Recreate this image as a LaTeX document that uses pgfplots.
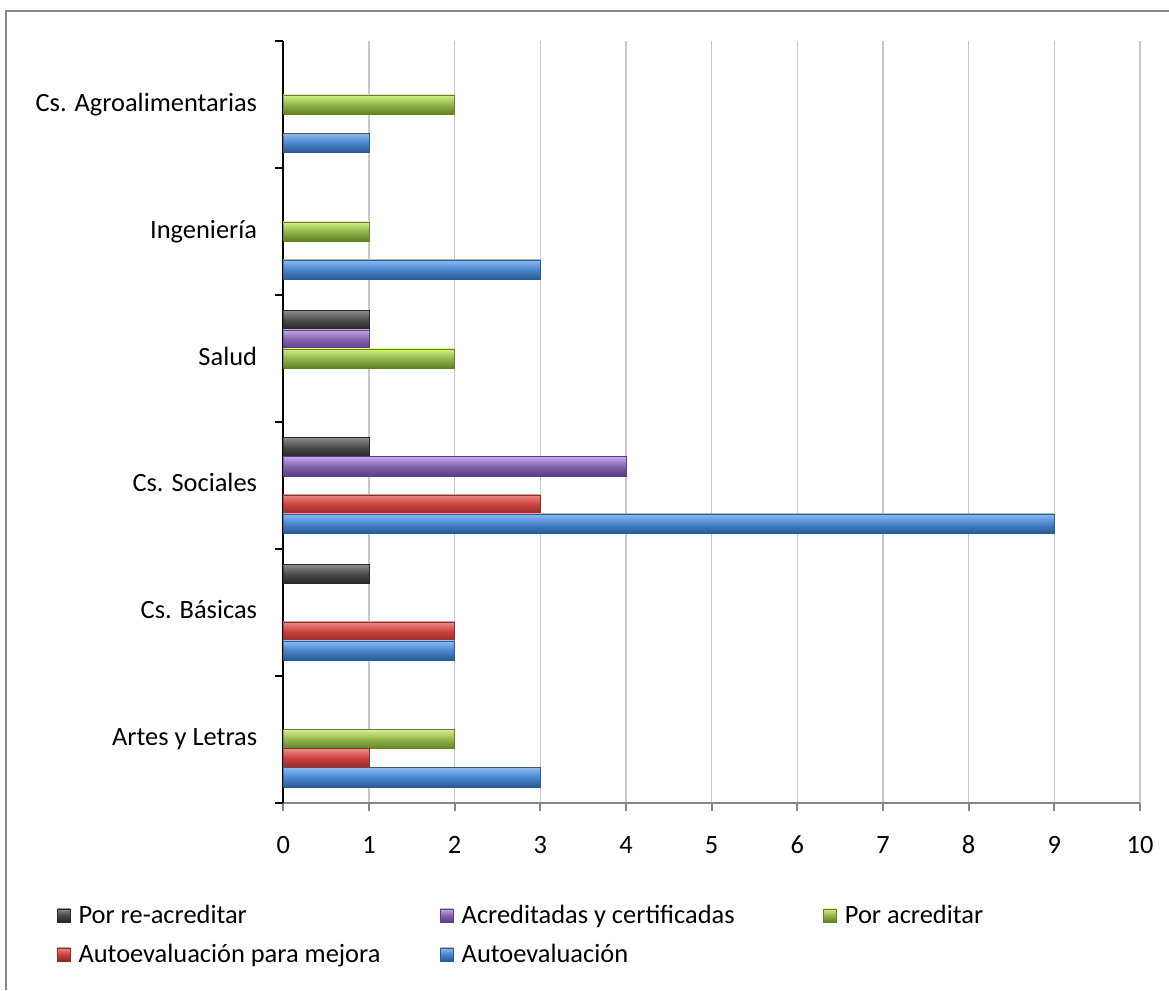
\documentclass[border=0pt]{standalone}
\usepackage{pgfplots}
\pgfplotsset{compat=1.18}
\usepackage{fontspec}
\setmainfont{Carlito}
\definecolor{axgray}{HTML}{868686}
\definecolor{grd}{HTML}{C8C8C8}
\definecolor{bM}{HTML}{4A86CF}\definecolor{bL}{HTML}{8DBDF2}\definecolor{bD}{HTML}{2D5A8E}
\definecolor{rM}{HTML}{C9423F}\definecolor{rL}{HTML}{F28A87}\definecolor{rD}{HTML}{8E2E2C}
\definecolor{gM}{HTML}{93B64A}\definecolor{gL}{HTML}{D3F287}\definecolor{gD}{HTML}{647F2E}
\definecolor{pM}{HTML}{8463AE}\definecolor{pL}{HTML}{C6A6EC}\definecolor{pD}{HTML}{594080}
\definecolor{kM}{HTML}{4A4A4A}\definecolor{kL}{HTML}{8C8C8C}\definecolor{kD}{HTML}{262626}
\newcommand{\lf}{\fontsize{19.8}{24}\selectfont}
\pgfplotsset{
  sK/.style={xbar, bar width=0.15, bar shift=0.3, draw=kD, top color=kL, bottom color=kD, middle color=kM},
  sP/.style={xbar, bar width=0.15, bar shift=0.15, draw=pD, top color=pL, bottom color=pD, middle color=pM},
  sG/.style={xbar, bar width=0.15, bar shift=0, draw=gD, top color=gL, bottom color=gD, middle color=gM},
  sR/.style={xbar, bar width=0.15, bar shift=-0.15, draw=rD, top color=rL, bottom color=rD, middle color=rM},
  sB/.style={xbar, bar width=0.15, bar shift=-0.3, draw=bD, top color=bL, bottom color=bD, middle color=bM},
}
\begin{document}
\begin{tikzpicture}
\useasboundingbox (0pt,0pt) rectangle (876.75pt,742.5pt);
\draw[axgray, line width=1.1pt] (4.5pt,0pt) -- (4.5pt,734.25pt) -- (876.75pt,734.25pt);
\begin{axis}[
  at={(212.5pt,140.5pt)}, anchor=south west,
  scale only axis, width=642.5pt, height=571.25pt,
  xmin=0, xmax=10, ymin=-0.5, ymax=5.5,
  xtick={0,1,...,10},
  ytick={0,...,5},
  yticklabels={Artes y Letras, Cs. Básicas, Cs. Sociales, Salud, Ingeniería, Cs. Agroalimentarias},
  minor ytick={-0.5,0.5,...,5.5},
  axis x line*=bottom, axis y line*=left,
  x axis line style={axgray, line width=1.4pt, -},
  y axis line style={black, line width=1.5pt, -},
  tick align=outside,
  major tick length=6pt, minor tick length=6pt,
  x tick style={axgray, line width=1.4pt},
  major y tick style={draw=none},
  minor y tick style={black, line width=1.4pt},
  xmajorgrids, major x grid style={grd, line width=1.1pt},
  /pgf/number format/assume math mode=true,
  tick label style={font=\lf},
  yticklabel style={anchor=east, inner sep=0pt, text height=14pt, text depth=4pt, xshift=-13.5pt},
  xticklabel style={anchor=north, inner sep=0pt, text height=12.5pt, text depth=0pt, yshift=-19.5pt},
  legend columns=3,
  legend style={draw=none, fill=none, at={(-0.2642,-0.1345)}, anchor=north west,
    font=\lf, inner sep=0pt, outer sep=0pt, row sep=10.75pt, column sep=0pt,
    nodes={inner sep=0pt, anchor=west, text height=14pt, text depth=4.5pt}},
  legend image code/.code={\fill[#1] (0pt,-3.3pt) rectangle (9.75pt,6.45pt); \path (15.75pt,0pt);},
]
% Por re-acreditar
\addplot[sK] coordinates {(1,1)};
\addlegendentry{\makebox[271.25pt][l]{Por re-acreditar}}
\addplot[sK, forget plot] coordinates {(1,2)};
\addplot[sK, forget plot] coordinates {(1,3)};
% Acreditadas y certificadas
\addplot[sP] coordinates {(4,2)};
\addlegendentry{\makebox[271.25pt][l]{Acreditadas y certificadas}}
\addplot[sP, forget plot] coordinates {(1,3)};
% Por acreditar
\addplot[sG] coordinates {(2,0)};
\addlegendentry{Por acreditar}
\addplot[sG, forget plot] coordinates {(2,3)};
\addplot[sG, forget plot] coordinates {(1,4)};
\addplot[sG, forget plot] coordinates {(2,5)};
% Autoevaluacion para mejora
\addplot[sR] coordinates {(1,0)};
\addlegendentry{\makebox[271.25pt][l]{Autoevaluación para mejora}}
\addplot[sR, forget plot] coordinates {(2,1)};
\addplot[sR, forget plot] coordinates {(3,2)};
% Autoevaluacion
\addplot[sB] coordinates {(3,0)};
\addlegendentry{Autoevaluación}
\addplot[sB, forget plot] coordinates {(2,1)};
\addplot[sB, forget plot] coordinates {(9,2)};
\addplot[sB, forget plot] coordinates {(3,4)};
\addplot[sB, forget plot] coordinates {(1,5)};
\end{axis}
\end{tikzpicture}
\end{document}
